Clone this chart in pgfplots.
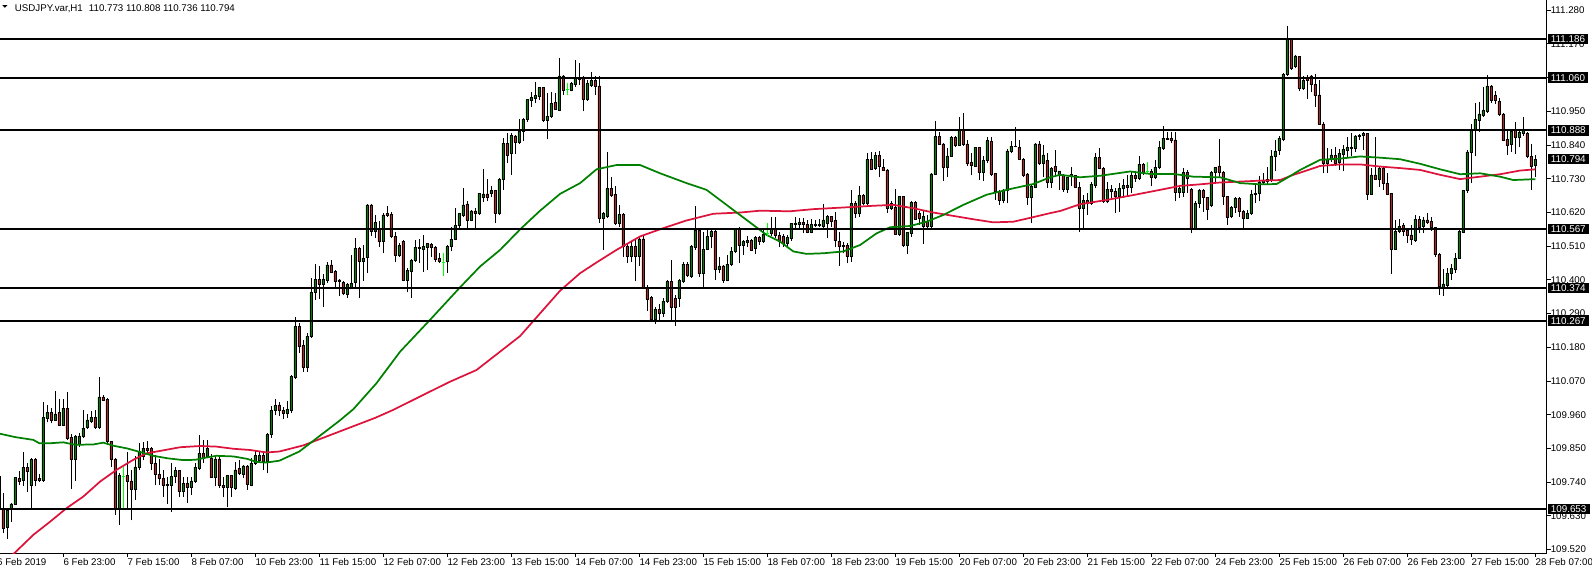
\documentclass[border=0pt]{standalone}
\usepackage{pgfplots}
\pgfplotsset{compat=1.18}
\usepackage{pgfplotstable}
\usepackage{fontspec}
\setmainfont{Liberation Sans}
\definecolor{bull}{RGB}{0,128,0}
\definecolor{bear}{RGB}{178,34,34}
\definecolor{magreen}{RGB}{0,128,0}
\definecolor{mared}{RGB}{220,20,60}
\definecolor{doji}{RGB}{0,255,0}

\pgfplotstableread{
k o h l c
0 109.758 109.804 109.649 109.655
1 109.653 109.704 109.573 109.590
2 109.593 109.655 109.554 109.649
3 109.653 109.671 109.611 109.669
4 109.669 109.758 109.666 109.755
5 109.751 109.775 109.731 109.742
6 109.745 109.839 109.728 109.788
7 109.788 109.802 109.707 109.775
8 109.729 109.819 109.655 109.813
9 109.813 109.819 109.726 109.745
10 109.751 109.767 109.742 109.745
11 109.745 110.001 109.742 109.950
12 109.948 109.993 109.935 109.968
13 109.968 109.981 109.932 109.943
14 109.943 110.038 109.941 109.963
15 109.968 110.011 109.922 109.925
16 109.925 110.011 109.922 109.981
17 109.981 110.035 109.878 109.883
18 109.887 109.898 109.719 109.813
19 109.813 109.893 109.745 109.889
20 109.862 109.900 109.856 109.891
21 109.889 109.975 109.883 109.916
22 109.918 109.962 109.914 109.943
23 109.938 109.973 109.932 109.952
24 109.952 109.976 109.915 109.918
25 109.918 110.084 109.914 110.018
26 110.018 110.024 110.004 110.006
27 110.009 110.014 109.869 109.873
28 109.873 109.873 109.791 109.815
29 109.815 109.818 109.633 109.652
30 109.652 109.769 109.601 109.762
31 109.758 109.791 109.653 109.758
32 109.762 109.840 109.649 109.744
33 109.744 109.780 109.615 109.717
34 109.717 109.824 109.682 109.790
35 109.790 109.867 109.780 109.840
36 109.824 109.871 109.811 109.851
37 109.851 109.873 109.829 109.843
38 109.851 109.856 109.780 109.802
39 109.802 109.829 109.731 109.766
40 109.766 109.817 109.731 109.751
41 109.751 109.780 109.693 109.731
42 109.734 109.758 109.669 109.729
43 109.731 109.802 109.644 109.758
44 109.758 109.791 109.737 109.777
45 109.777 109.780 109.693 109.709
46 109.709 109.758 109.693 109.737
47 109.737 109.758 109.673 109.722
48 109.723 109.758 109.698 109.744
49 109.742 109.802 109.737 109.788
50 109.786 109.893 109.780 109.834
51 109.834 109.878 109.802 109.818
52 109.824 109.878 109.818 109.850
53 109.818 109.832 109.753 109.755
54 109.755 109.824 109.726 109.816
55 109.816 109.824 109.720 109.729
56 109.729 109.758 109.690 109.723
57 109.723 109.764 109.660 109.761
58 109.761 109.764 109.693 109.722
59 109.720 109.807 109.715 109.780
60 109.784 109.813 109.764 109.769
61 109.767 109.796 109.753 109.793
62 109.793 109.796 109.715 109.733
63 109.731 109.818 109.726 109.802
64 109.802 109.841 109.796 109.826
65 109.811 109.840 109.807 109.826
66 109.826 109.840 109.780 109.807
67 109.807 109.900 109.769 109.895
68 109.895 109.990 109.885 109.975
69 109.975 110.011 109.960 109.990
70 109.992 110.000 109.955 109.975
71 109.975 109.985 109.945 109.965
72 109.965 110.006 109.950 109.978
73 109.975 110.090 109.965 110.085
74 110.082 110.280 110.076 110.248
75 110.248 110.259 110.161 110.183
76 110.185 110.204 110.101 110.115
77 110.115 110.226 110.101 110.217
78 110.215 110.406 110.210 110.360
79 110.359 110.452 110.335 110.402
80 110.402 110.446 110.337 110.386
81 110.387 110.420 110.311 110.402
82 110.400 110.459 110.389 110.449
83 110.449 110.465 110.422 110.424
84 110.427 110.433 110.378 110.395
85 110.400 110.404 110.348 110.395
86 110.391 110.395 110.351 110.357
87 110.353 110.391 110.340 110.386
88 110.375 110.482 110.373 110.389
89 110.391 110.536 110.375 110.503
90 110.503 110.509 110.340 110.460
91 110.460 110.514 110.398 110.471
92 110.473 110.648 110.422 110.645
93 110.645 110.648 110.544 110.558
94 110.558 110.612 110.536 110.588
95 110.569 110.591 110.509 110.525
96 110.525 110.618 110.487 110.612
97 110.616 110.642 110.607 110.610
98 110.613 110.622 110.536 110.542
99 110.542 110.558 110.460 110.480
100 110.480 110.520 110.476 110.513
101 110.527 110.531 110.395 110.398
102 110.400 110.438 110.359 110.431
103 110.429 110.468 110.340 110.464
104 110.464 110.531 110.460 110.507
105 110.507 110.533 110.455 110.503
106 110.501 110.547 110.427 110.509
107 110.507 110.522 110.433 110.518
108 110.517 110.522 110.476 110.507
109 110.507 110.511 110.460 110.468
110 110.471 110.489 110.455 110.460
111 110.458 110.487 110.414 110.458
112 110.460 110.514 110.424 110.509
113 110.509 110.574 110.493 110.533
114 110.533 110.634 110.529 110.577
115 110.577 110.620 110.563 110.616
116 110.610 110.699 110.607 110.645
117 110.648 110.656 110.569 110.596
118 110.596 110.629 110.591 110.625
119 110.625 110.634 110.569 110.618
120 110.616 110.685 110.612 110.683
121 110.669 110.761 110.654 110.681
122 110.681 110.730 110.656 110.669
123 110.682 110.705 110.672 110.691
124 110.691 110.694 110.585 110.617
125 110.617 110.732 110.612 110.727
126 110.727 110.863 110.694 110.846
127 110.846 110.879 110.781 110.806
128 110.814 110.879 110.743 110.873
129 110.870 110.873 110.811 110.848
130 110.848 110.925 110.844 110.884
131 110.884 110.928 110.852 110.925
132 110.925 110.990 110.917 110.988
133 110.985 111.012 110.966 110.995
134 110.993 111.047 110.977 111.001
135 110.998 111.031 110.988 111.028
136 111.028 111.031 110.917 110.922
137 110.922 111.009 110.859 110.935
138 110.933 111.012 110.928 110.977
139 110.979 111.009 110.955 110.958
140 110.955 111.124 110.950 111.066
141 111.066 111.069 111.004 111.020
142 111.022 111.044 111.002 111.022
143 111.020 111.047 111.015 111.040
144 111.037 111.118 111.031 111.057
145 111.058 111.107 111.037 111.055
146 111.058 111.064 110.950 110.990
147 110.990 111.053 110.985 111.040
148 111.034 111.080 111.031 111.050
149 111.050 111.064 111.004 111.031
150 111.033 111.066 110.585 110.601
151 110.601 110.623 110.498 110.618
152 110.607 110.817 110.601 110.699
153 110.699 110.737 110.672 110.675
154 110.680 110.707 110.580 110.585
155 110.585 110.645 110.574 110.614
156 110.614 110.620 110.476 110.509
157 110.509 110.520 110.455 110.476
158 110.476 110.525 110.460 110.509
159 110.509 110.533 110.395 110.476
160 110.476 110.542 110.444 110.534
161 110.534 110.542 110.373 110.376
162 110.376 110.384 110.300 110.338
163 110.342 110.346 110.267 110.270
164 110.270 110.313 110.257 110.305
165 110.305 110.322 110.270 110.291
166 110.291 110.340 110.280 110.329
167 110.329 110.400 110.324 110.395
168 110.395 110.465 110.264 110.311
169 110.340 110.351 110.250 110.311
170 110.340 110.402 110.313 110.398
171 110.395 110.458 110.389 110.452
172 110.452 110.460 110.411 110.416
173 110.411 110.514 110.406 110.509
174 110.507 110.642 110.498 110.563
175 110.563 110.569 110.409 110.420
176 110.420 110.558 110.378 110.500
177 110.500 110.563 110.498 110.542
178 110.542 110.563 110.503 110.558
179 110.558 110.563 110.400 110.433
180 110.433 110.476 110.424 110.446
181 110.446 110.449 110.391 110.400
182 110.400 110.482 110.395 110.452
183 110.452 110.509 110.444 110.493
184 110.493 110.569 110.487 110.567
185 110.567 110.572 110.455 110.514
186 110.514 110.531 110.482 110.525
187 110.523 110.542 110.509 110.528
188 110.528 110.533 110.493 110.498
189 110.503 110.542 110.484 110.539
190 110.539 110.544 110.514 110.525
191 110.525 110.566 110.520 110.550
192 110.552 110.587 110.542 110.552
193 110.552 110.607 110.542 110.569
194 110.569 110.605 110.536 110.547
195 110.544 110.558 110.509 110.525
196 110.541 110.550 110.509 110.519
197 110.518 110.547 110.511 110.538
198 110.536 110.587 110.528 110.585
199 110.585 110.607 110.569 110.580
200 110.580 110.601 110.563 110.589
201 110.589 110.601 110.552 110.580
202 110.580 110.596 110.552 110.555
203 110.555 110.598 110.552 110.580
204 110.580 110.596 110.572 110.578
205 110.578 110.598 110.572 110.581
206 110.576 110.648 110.569 110.596
207 110.585 110.612 110.536 110.607
208 110.607 110.609 110.574 110.590
209 110.593 110.622 110.509 110.528
210 110.527 110.557 110.447 110.509
211 110.509 110.525 110.487 110.514
212 110.514 110.520 110.454 110.476
213 110.476 110.694 110.460 110.650
214 110.650 110.656 110.601 110.618
215 110.616 110.705 110.607 110.676
216 110.676 110.681 110.645 110.650
217 110.650 110.813 110.645 110.792
218 110.792 110.817 110.759 110.761
219 110.763 110.819 110.759 110.807
220 110.807 110.821 110.735 110.770
221 110.768 110.794 110.754 110.757
222 110.759 110.761 110.620 110.634
223 110.634 110.656 110.629 110.650
224 110.637 110.696 110.546 110.550
225 110.550 110.674 110.545 110.672
226 110.672 110.674 110.509 110.512
227 110.512 110.558 110.484 110.555
228 110.553 110.658 110.541 110.654
229 110.654 110.656 110.596 110.599
230 110.617 110.626 110.580 110.601
231 110.576 110.626 110.518 110.607
232 110.590 110.612 110.563 110.574
233 110.574 110.748 110.571 110.746
234 110.746 110.919 110.742 110.868
235 110.868 110.884 110.841 110.844
236 110.844 110.846 110.724 110.768
237 110.768 110.830 110.737 110.805
238 110.805 110.870 110.803 110.866
239 110.866 110.870 110.835 110.839
240 110.839 110.933 110.838 110.888
241 110.888 110.944 110.838 110.841
242 110.844 110.857 110.773 110.779
243 110.783 110.813 110.741 110.773
244 110.772 110.835 110.770 110.833
245 110.833 110.835 110.726 110.750
246 110.750 110.803 110.724 110.790
247 110.790 110.868 110.781 110.854
248 110.851 110.868 110.740 110.746
249 110.748 110.750 110.661 110.688
250 110.688 110.694 110.645 110.659
251 110.659 110.696 110.650 110.694
252 110.694 110.827 110.650 110.821
253 110.819 110.852 110.813 110.837
254 110.837 110.898 110.833 110.835
255 110.832 110.857 110.790 110.794
256 110.794 110.797 110.737 110.743
257 110.746 110.748 110.645 110.669
258 110.669 110.710 110.585 110.705
259 110.703 110.848 110.699 110.844
260 110.844 110.852 110.775 110.779
261 110.781 110.841 110.737 110.808
262 110.789 110.813 110.699 110.719
263 110.719 110.770 110.699 110.765
264 110.770 110.824 110.737 110.754
265 110.741 110.757 110.694 110.756
266 110.743 110.746 110.688 110.696
267 110.696 110.737 110.685 110.734
268 110.745 110.770 110.705 110.737
269 110.740 110.743 110.699 110.703
270 110.703 110.718 110.558 110.634
271 110.634 110.678 110.569 110.659
272 110.659 110.683 110.612 110.650
273 110.650 110.718 110.645 110.713
274 110.710 110.813 110.699 110.799
275 110.799 110.831 110.761 110.765
276 110.765 110.770 110.652 110.656
277 110.656 110.721 110.650 110.696
278 110.696 110.710 110.661 110.688
279 110.690 110.699 110.618 110.672
280 110.672 110.716 110.623 110.699
281 110.699 110.729 110.667 110.708
282 110.708 110.743 110.672 110.703
283 110.703 110.754 110.683 110.740
284 110.742 110.754 110.721 110.732
285 110.732 110.805 110.726 110.778
286 110.778 110.783 110.743 110.751
287 110.754 110.786 110.748 110.754
288 110.754 110.761 110.705 110.735
289 110.735 110.792 110.729 110.768
290 110.768 110.852 110.761 110.832
291 110.830 110.903 110.824 110.863
292 110.863 110.884 110.857 110.860
293 110.863 110.884 110.846 110.855
294 110.857 110.884 110.656 110.685
295 110.685 110.705 110.667 110.699
296 110.685 110.765 110.670 110.750
297 110.750 110.759 110.683 110.732
298 110.696 110.699 110.552 110.569
299 110.569 110.656 110.565 110.650
300 110.650 110.696 110.634 110.692
301 110.692 110.696 110.623 110.670
302 110.670 110.672 110.596 110.631
303 110.642 110.754 110.637 110.750
304 110.752 110.770 110.716 110.768
305 110.772 110.859 110.737 110.750
306 110.750 110.754 110.645 110.672
307 110.672 110.674 110.580 110.605
308 110.607 110.641 110.601 110.637
309 110.636 110.670 110.618 110.667
310 110.667 110.672 110.607 110.623
311 110.623 110.629 110.569 110.601
312 110.601 110.629 110.598 110.618
313 110.618 110.694 110.612 110.678
314 110.678 110.716 110.652 110.683
315 110.683 110.740 110.656 110.720
316 110.718 110.748 110.710 110.726
317 110.727 110.770 110.710 110.721
318 110.724 110.824 110.721 110.805
319 110.803 110.857 110.754 110.821
320 110.822 110.870 110.808 110.863
321 110.859 111.075 110.852 111.072
322 111.072 111.229 111.066 111.187
323 111.187 111.189 111.086 111.091
324 111.096 111.135 111.091 111.131
325 111.129 111.131 111.015 111.026
326 111.024 111.064 111.020 111.051
327 111.058 111.069 110.991 111.051
328 111.066 111.069 111.012 111.037
329 111.037 111.072 110.966 111.002
330 111.004 111.053 110.906 110.908
331 110.909 110.914 110.748 110.781
332 110.779 110.830 110.748 110.792
333 110.792 110.827 110.786 110.808
334 110.806 110.833 110.772 110.781
335 110.783 110.827 110.759 110.814
336 110.811 110.841 110.754 110.827
337 110.824 110.868 110.797 110.833
338 110.833 110.879 110.803 110.829
339 110.830 110.873 110.819 110.870
340 110.868 110.877 110.857 110.873
341 110.873 110.884 110.824 110.877
342 110.877 110.879 110.661 110.680
343 110.680 110.765 110.678 110.743
344 110.743 110.866 110.726 110.729
345 110.729 110.772 110.703 110.764
346 110.764 110.768 110.694 110.714
347 110.716 110.748 110.678 110.680
348 110.683 110.685 110.420 110.500
349 110.500 110.596 110.498 110.558
350 110.558 110.598 110.552 110.576
351 110.577 110.585 110.544 110.558
352 110.561 110.569 110.520 110.547
353 110.547 110.580 110.514 110.531
354 110.528 110.612 110.525 110.598
355 110.598 110.609 110.552 110.572
356 110.574 110.607 110.552 110.596
357 110.596 110.620 110.583 110.587
358 110.592 110.607 110.561 110.572
359 110.572 110.574 110.476 110.482
360 110.482 110.487 110.351 110.378
361 110.376 110.435 110.348 110.387
362 110.384 110.438 110.378 110.422
363 110.422 110.452 110.400 110.437
364 110.435 110.487 110.422 110.471
365 110.471 110.563 110.468 110.558
366 110.555 110.694 110.552 110.691
367 110.691 110.824 110.683 110.818
368 110.816 110.909 110.716 110.888
369 110.888 110.979 110.803 110.925
370 110.920 110.982 110.884 110.942
371 110.936 111.031 110.931 110.953
372 110.950 111.069 110.944 111.033
373 111.033 111.037 110.977 110.986
374 111.001 111.018 110.975 110.986
375 110.982 110.993 110.935 110.939
376 110.942 110.946 110.852 110.855
377 110.859 110.888 110.808 110.840
378 110.841 110.890 110.819 110.884
379 110.892 110.914 110.811 110.865
380 110.865 110.893 110.835 110.882
381 110.879 110.931 110.870 110.890
382 110.877 110.884 110.797 110.803
383 110.803 110.844 110.694 110.770
384 110.773 110.808 110.736 110.794
}\candles

\pgfplotstableread{
k p h l
31 109.758 109.791 109.653
111 110.458 110.487 110.414
142 111.022 111.044 111.002
192 110.552 110.587 110.542
287 110.754 110.786 110.748
}\dojis

\pgfplotsset{
  chartbase/.style={
    scale only axis, width=1159.875pt, height=414.75pt,
    xmin=0.175, xmax=386.8, ymin=109.5088, ymax=111.3136,
    at={(0pt,0pt)}, anchor=north west,
  },
}
\tikzset{
  tag/.style={fill=black, text=white, anchor=west, inner xsep=2.4pt, inner ysep=1.3pt,
    font=\fontsize{7.4pt}{8pt}\selectfont, xshift=0.6pt},
}
\begin{document}
\begin{tikzpicture}
\path[use as bounding box] (0,0) rectangle (1194pt,-428.25pt);
% wicks (drawn first, behind the bodies)
\begin{axis}[chartbase, hide axis]
\addplot[draw=none, mark=none, error bars/.cd, y dir=plus, y explicit, error mark=none,
  error bar style={draw=black, solid, line width=0.75pt}]
  table[x=k, y=l, y error plus expr={\thisrow{h}-\thisrow{l}}] {\candles};
\end{axis}
% bodies
\begin{axis}[chartbase, hide axis, ybar stacked, bar width=2.2pt]
\addplot[draw=none, fill=none] table[x=k, y expr={min(\thisrow{o},\thisrow{c})}] {\candles};
\addplot[fill=bull, draw=black, line width=0.5pt] table[x=k, y expr={max(\thisrow{c}-\thisrow{o},0)}] {\candles};
\addplot[fill=bear, draw=black, line width=0.5pt] table[x=k, y expr={max(\thisrow{o}-\thisrow{c},0)}] {\candles};
\end{axis}
% lines, ticks
\begin{axis}[chartbase, clip mode=individual,
  axis x line*=bottom, axis y line*=right,
  axis line style={-, line width=0.75pt, black},
  tick align=outside, major tick length=3pt,
  tick style={black, line width=0.75pt},
  xtick={16,32,...,384},
  xticklabels={6 Feb 23:00, 7 Feb 15:00, 8 Feb 07:00, 10 Feb 23:00, 11 Feb 15:00, 12 Feb 07:00, 12 Feb 23:00, 13 Feb 15:00, 14 Feb 07:00, 14 Feb 23:00, 15 Feb 15:00, 18 Feb 07:00, 18 Feb 23:00, 19 Feb 15:00, 20 Feb 07:00, 20 Feb 23:00, 21 Feb 15:00, 22 Feb 07:00, 24 Feb 23:00, 25 Feb 15:00, 26 Feb 07:00, 26 Feb 23:00, 27 Feb 15:00, 28 Feb 07:00},
  ytick={109.52,109.63,109.74,109.85,109.96,110.07,110.18,110.29,110.40,110.51,110.62,110.73,110.84,110.95,111.06,111.17,111.28},
  yticklabels={109.520,109.630,109.740,109.850,109.960,110.070,110.180,110.290,110.400,110.510,110.620,110.730,110.840,110.950,111.060,111.170,111.280},
  ticklabel style={font=\fontsize{7.3pt}{8pt}\selectfont, inner sep=0pt},
  xticklabel style={anchor=north west, yshift=-1.2pt},
  yticklabel style={anchor=west},
]
\addplot[mared, line width=1.3pt] coordinates {(0.175,109.47) (3.9,109.510) (8.5,109.568) (12.7,109.611) (16.8,109.655) (21,109.693) (25.2,109.742) (29.3,109.780) (33.5,109.813) (36.8,109.834) (40.2,109.842) (45.2,109.854) (50.2,109.858) (54.3,109.856) (58.5,109.849) (62.7,109.845) (66.8,109.837) (70,109.840) (76,109.860) (82,109.890) (88,109.920) (94,109.950) (98.5,109.976) (106.8,110.030) (112.7,110.068) (119.3,110.106) (125.2,110.166) (130.2,110.217) (135.2,110.291) (140.2,110.365) (145.2,110.422) (149.3,110.457) (154.3,110.498) (160.2,110.542) (166,110.569) (171.8,110.594) (178.5,110.616) (185.2,110.620) (190.2,110.626) (197.6,110.624) (203.5,110.631) (211.8,110.637) (218.5,110.642) (223.5,110.645) (228.5,110.634) (233.5,110.620) (238.5,110.609) (243.5,110.598) (248.5,110.588) (253.5,110.590) (258.5,110.605) (262.7,110.618) (265.2,110.625) (270.2,110.647) (276.8,110.661) (283.5,110.677) (290.2,110.694) (295.2,110.707) (300.2,110.712) (305.2,110.718) (310.2,110.721) (315.2,110.724) (320.2,110.726) (323.5,110.743) (325.2,110.750) (330.2,110.772) (335.2,110.777) (340.2,110.777) (345.2,110.770) (350.2,110.765) (355.2,110.759) (360.2,110.743) (365.2,110.729) (370.2,110.737) (375.2,110.745) (380.2,110.757) (384,110.761)};
\addplot[magreen, line width=1.3pt] coordinates {(0.175,109.898) (4,109.887) (8.5,109.878) (10,109.867) (12.7,109.867) (16,109.870) (19,109.862) (23.5,109.863) (26,109.869) (28.5,109.859) (32,109.850) (35,109.839) (38.5,109.826) (42,109.818) (46,109.812) (49,109.813) (52,109.821) (54.3,109.826) (58.5,109.824) (62,109.816) (64.3,109.806) (66.8,109.804) (70,109.81) (75,109.84) (80,109.89) (85,109.94) (88.5,109.978) (94.3,110.063) (100.2,110.166) (107.7,110.270) (115.2,110.376) (120.2,110.444) (125.2,110.498) (130.2,110.565) (135.2,110.626) (140.2,110.681) (145.2,110.716) (149.3,110.761) (154.3,110.775) (160.2,110.775) (165.2,110.748) (171.8,110.716) (176.8,110.694) (181.8,110.645) (186.8,110.596) (191.8,110.547) (195.2,110.525) (198.5,110.493) (201.8,110.485) (206,110.487) (211,110.493) (215.2,110.514) (219.3,110.552) (222.7,110.572) (227.7,110.576) (231.8,110.590) (236,110.612) (241,110.645) (246.8,110.678) (253.5,110.699) (258.5,110.713) (262.7,110.735) (265.2,110.743) (270.2,110.735) (275.2,110.740) (282.7,110.754) (287.7,110.746) (293.5,110.746) (298.5,110.737) (305.2,110.735) (310.2,110.716) (315.2,110.712) (319.3,110.713) (321.8,110.732) (325.2,110.759) (330.2,110.792) (335.2,110.796) (340.2,110.803) (345.2,110.799) (350.2,110.794) (355.2,110.779) (360.2,110.761) (365.2,110.745) (370.2,110.748) (375.2,110.737) (378.5,110.726) (384,110.729)};
\addplot[doji, line width=0.75pt, only marks, mark=-, mark size=1.2pt,
  error bars/.cd, y dir=both, y explicit, error mark=none,
  error bar style={draw=doji, solid, line width=0.75pt}]
  table[x=k, y=p, y error plus expr={\thisrow{h}-\thisrow{p}}, y error minus expr={\thisrow{p}-\thisrow{l}}] {\dojis};
\addplot[black, line width=1.5pt] coordinates {(0.175,111.186) (386.8,111.186)};
\addplot[black, line width=1.5pt] coordinates {(0.175,111.060) (386.8,111.060)};
\addplot[black, line width=1.5pt] coordinates {(0.175,110.888) (386.8,110.888)};
\addplot[black, line width=1.5pt] coordinates {(0.175,110.567) (386.8,110.567)};
\addplot[black, line width=1.5pt] coordinates {(0.175,110.374) (386.8,110.374)};
\addplot[black, line width=1.5pt] coordinates {(0.175,110.267) (386.8,110.267)};
\addplot[black, line width=1.5pt] coordinates {(0.175,109.653) (386.8,109.653)};
\end{axis}
% price tags and header
\begin{axis}[chartbase, hide axis, clip=false]
\node[tag] at (axis cs:386.8,111.186) {111.186};
\node[tag] at (axis cs:386.8,111.060) {111.060};
\node[tag] at (axis cs:386.8,110.888) {110.888};
\node[tag] at (axis cs:386.8,110.794) {110.794};
\node[tag] at (axis cs:386.8,110.567) {110.567};
\node[tag] at (axis cs:386.8,110.374) {110.374};
\node[tag] at (axis cs:386.8,110.267) {110.267};
\node[tag] at (axis cs:386.8,109.653) {109.653};
\node[anchor=north west, inner sep=0pt, font=\fontsize{7.3pt}{8pt}\selectfont, yshift=-4.2pt, xshift=-1.8pt] at (axis cs:0,109.5088) {6 Feb 2019};
\end{axis}
\fill[black] (1.725pt,-3.9pt) -- (5.475pt,-3.9pt) -- (3.6pt,-5.85pt) -- cycle;
\node[anchor=west, inner sep=0pt, font=\fontsize{7.3pt}{8pt}\selectfont] at (11pt,-6.4pt) {USDJPY.var,H1\hspace{4.5pt}110.773 110.808 110.736 110.794};
\end{tikzpicture}
\end{document}
